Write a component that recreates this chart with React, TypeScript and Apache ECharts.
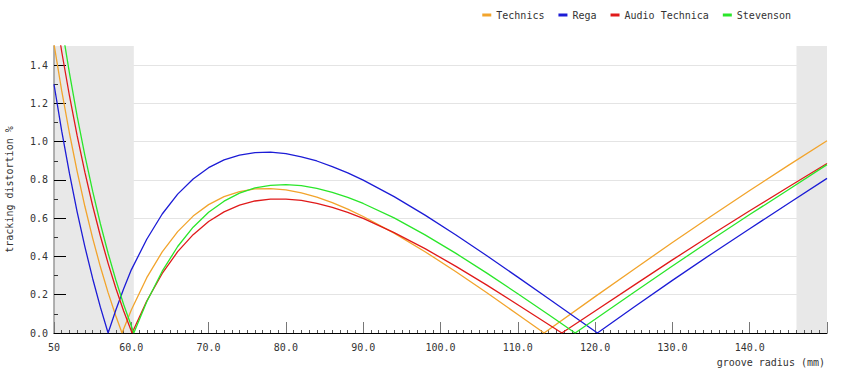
import { useEffect, useRef } from 'react';
import * as echarts from 'echarts';

const seriesNames = ['Technics', 'Rega', 'Audio Technica', 'Stevenson'];
const seriesColors = ['#f2a42c', '#1c1cd6', '#e01a1a', '#2ae62a'];

const technicsR = [50, 51, 52, 53, 54, 55, 56, 57, 58, 58.8, 60, 62, 64, 66, 68, 70, 72, 74, 76, 78, 80, 82, 84, 86, 88, 90, 94, 98, 102, 106, 110, 113.4, 120, 125, 130, 135, 140, 145, 150];
const technicsV = [1.51, 1.265, 1.044, 0.843, 0.661, 0.496, 0.346, 0.211, 0.089, 0, 0.12, 0.289, 0.424, 0.53, 0.611, 0.671, 0.713, 0.739, 0.753, 0.755, 0.748, 0.732, 0.71, 0.681, 0.647, 0.609, 0.522, 0.425, 0.32, 0.21, 0.097, 0, 0.19, 0.332, 0.473, 0.61, 0.745, 0.876, 1.005];

const regaR = [50, 51, 52, 53, 54, 55, 56, 57, 58, 59, 60, 62, 64, 66, 68, 70, 72, 74, 76, 78, 80, 82, 84, 86, 88, 90, 94, 98, 102, 106, 110, 114, 118, 120.3, 125, 130, 135, 140, 145, 150];
const regaV = [1.3, 1.055, 0.834, 0.632, 0.45, 0.285, 0.135, 0, 0.12, 0.23, 0.33, 0.49, 0.622, 0.726, 0.805, 0.864, 0.905, 0.93, 0.943, 0.945, 0.937, 0.921, 0.899, 0.87, 0.837, 0.799, 0.713, 0.616, 0.512, 0.404, 0.292, 0.179, 0.065, 0, 0.135, 0.275, 0.412, 0.545, 0.677, 0.808];

const audioTechnicaR = [50, 51, 52, 53, 54, 55, 56, 57, 58, 59, 60.1, 62, 64, 66, 68, 70, 72, 74, 76, 78, 80, 82, 84, 86, 88, 90, 94, 98, 102, 106, 110, 115.7, 120, 125, 130, 135, 140, 145, 150];
const audioTechnicaV = [1.725, 1.47, 1.24, 1.03, 0.839, 0.665, 0.507, 0.364, 0.234, 0.116, 0, 0.167, 0.311, 0.425, 0.514, 0.583, 0.633, 0.668, 0.69, 0.7, 0.7, 0.693, 0.677, 0.656, 0.63, 0.599, 0.525, 0.441, 0.348, 0.25, 0.148, 0, 0.115, 0.249, 0.382, 0.512, 0.639, 0.763, 0.886];

const stevensonR = [50, 51, 52, 53, 54, 55, 56, 57, 58, 59, 60.325, 62, 64, 66, 68, 70, 72, 74, 76, 78, 80, 82, 84, 86, 88, 90, 94, 98, 102, 106, 110, 114, 117.42, 120, 125, 130, 135, 140, 145, 150];
const stevensonV = [1.877, 1.605, 1.358, 1.132, 0.927, 0.741, 0.571, 0.417, 0.277, 0.15, 0, 0.163, 0.323, 0.452, 0.553, 0.631, 0.689, 0.731, 0.758, 0.772, 0.775, 0.77, 0.756, 0.735, 0.709, 0.677, 0.602, 0.513, 0.416, 0.313, 0.205, 0.095, 0, 0.072, 0.212, 0.35, 0.486, 0.619, 0.749, 0.88];

const yTicks = [0, 0.2, 0.4, 0.6, 0.8, 1.0, 1.2, 1.4];
const xTicks = [50, 60, 70, 80, 90, 100, 110, 120, 130, 140, 150];
const shadeRanges = [
  [50, 60.325],
  [146.05, 150],
];

const FONT = 'DejaVu Sans Mono';

const zip = (r: number[], v: number[]) => r.map((x, i) => [x, v[i]]);

export default function App() {
  const ref = useRef<HTMLDivElement>(null);

  useEffect(() => {
    if (!ref.current) return;
    const chart = echarts.init(ref.current, undefined, { renderer: 'svg' });
    const dataSets = [
      zip(technicsR, technicsV),
      zip(regaR, regaV),
      zip(audioTechnicaR, audioTechnicaV),
      zip(stevensonR, stevensonV),
    ];

    chart.setOption({
      animation: false,
      backgroundColor: '#ffffff',
      textStyle: { fontFamily: FONT },
      grid: {
        left: 54,
        right: 23,
        top: 46,
        bottom: 46,
        containLabel: false,
        outerBoundsMode: 'none',
      },
      legend: {
        data: seriesNames,
        right: 54,
        top: 5,
        icon: 'rect',
        itemWidth: 9,
        itemHeight: 3,
        itemGap: 14,
        textStyle: { fontFamily: FONT, fontSize: 10, color: '#333' },
      },
      xAxis: {
        type: 'value',
        min: 50,
        max: 150,
        interval: 10,
        z: 1,
        axisLine: { show: true, onZero: false, lineStyle: { color: '#000', width: 1 } },
        axisTick: {
          show: true,
          inside: true,
          length: 11,
          customValues: xTicks,
          lineStyle: { color: '#777' },
        },
        minorTick: { show: true, splitNumber: 10, length: 3, lineStyle: { color: '#555' } },
        splitLine: { show: false },
        axisLabel: {
          customValues: xTicks.slice(0, -1),
          margin: 9,
          fontFamily: FONT,
          fontSize: 10,
          color: '#333',
          formatter: (v: number) => (v === 50 ? '50' : v.toFixed(1)),
        },
      },
      yAxis: {
        type: 'value',
        min: 0,
        max: 1.5,
        interval: 0.2,
        z: 1,
        name: 'tracking distortion %',
        nameLocation: 'middle',
        nameGap: 40,
        nameTextStyle: { fontFamily: FONT, fontSize: 10, color: '#333' },
        axisLine: { show: true, lineStyle: { color: '#999', width: 1.5 } },
        axisTick: {
          show: true,
          inside: true,
          length: 12,
          customValues: yTicks,
          lineStyle: { color: '#000' },
        },
        minorTick: { show: true, splitNumber: 2, length: 4, lineStyle: { color: '#333' } },
        splitLine: { show: true, lineStyle: { color: '#e4e4e4', width: 1 } },
        axisLabel: {
          customValues: yTicks,
          margin: 6,
          fontFamily: FONT,
          fontSize: 10,
          color: '#333',
          formatter: (v: number) => v.toFixed(1),
        },
      },
      graphic: [
        {
          type: 'text',
          right: 25,
          top: 357,
          style: { text: 'groove radius (mm)', fontFamily: FONT, fontSize: 10, fill: '#333' },
        },
      ],
      series: [
        {
          name: 'shade',
          type: 'line',
          data: [],
          z: 0,
          silent: true,
          markArea: {
            silent: true,
            itemStyle: { color: '#e8e8e8' },
            data: shadeRanges.map(([a, b]) => [{ xAxis: a }, { xAxis: b }]),
          },
        },
        ...seriesNames.map((name, i) => ({
          name,
          type: 'line',
          data: dataSets[i],
          z: 2,
          showSymbol: false,
          symbol: 'none',
          clip: true,
          color: seriesColors[i],
          lineStyle: { color: seriesColors[i], width: 1.3 },
        })),
      ],
    });

    return () => chart.dispose();
  }, []);

  return (
    <div
      ref={ref}
      style={{ position: 'absolute', left: 0, top: 0, width: 850, height: 379 }}
    />
  );
}
